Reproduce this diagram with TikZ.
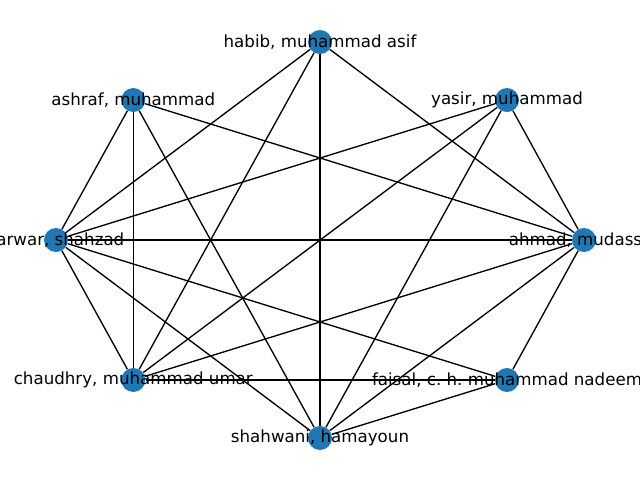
\documentclass[tikz,border=0pt]{standalone}
\usepackage{fontspec}
\setmainfont{DejaVu Sans}
\definecolor{nxblue}{HTML}{1F77B4}
\frenchspacing
\begin{document}
\begin{tikzpicture}[x=0.75pt,y=-0.75pt,
  vert/.style={circle,fill=nxblue,draw=none,minimum size=18pt,inner sep=0pt},
  lab/.style={font=\fontsize{12.5}{15}\selectfont,inner sep=0pt,text=black},
  edge/.style={draw=black,line width=1.0pt}]
\useasboundingbox (0,0) rectangle (640,480);
\clip (0,0) rectangle (640,480);
\node[vert] (habib) at (320,42) {};
\node[vert] (ashraf) at (133.3,100) {};
\node[vert] (yasir) at (507,100) {};
\node[vert] (sarwar) at (56,240) {};
\node[vert] (ahmad) at (584,240) {};
\node[vert] (chaudhry) at (133.3,380) {};
\node[vert] (faisal) at (507,380) {};
\node[vert] (shahwani) at (320,438) {};
\foreach \a/\b in {habib/sarwar,habib/chaudhry,habib/shahwani,habib/ahmad,
  ashraf/sarwar,ashraf/chaudhry,ashraf/shahwani,ashraf/ahmad,
  yasir/sarwar,yasir/chaudhry,yasir/shahwani,yasir/ahmad,
  sarwar/ahmad,sarwar/chaudhry,sarwar/shahwani,sarwar/faisal,
  ahmad/chaudhry,ahmad/shahwani,ahmad/faisal,
  chaudhry/faisal,faisal/shahwani}
  \draw[edge] (\a) -- (\b);
\node[lab] (habibL) at (habib) {habib, muhammad asif};
\node[lab] (ashrafL) at (ashraf) {ashraf, muhammad};
\node[lab] (yasirL) at (yasir) {yasir, muhammad};
\node[lab] (sarwarL) at (sarwar) {sarwar, shahzad};
\node[lab] (ahmadL) at (ahmad) {ahmad, mudassar};
\node[lab] (chaudhryL) at (chaudhry) {chaudhry, muhammad umar};
\node[lab] (faisalL) at (faisal) {faisal, c.\ h.\ muhammad nadeem};
\node[lab] (shahwaniL) at (shahwani) {shahwani, hamayoun};
\end{tikzpicture}
\end{document}
